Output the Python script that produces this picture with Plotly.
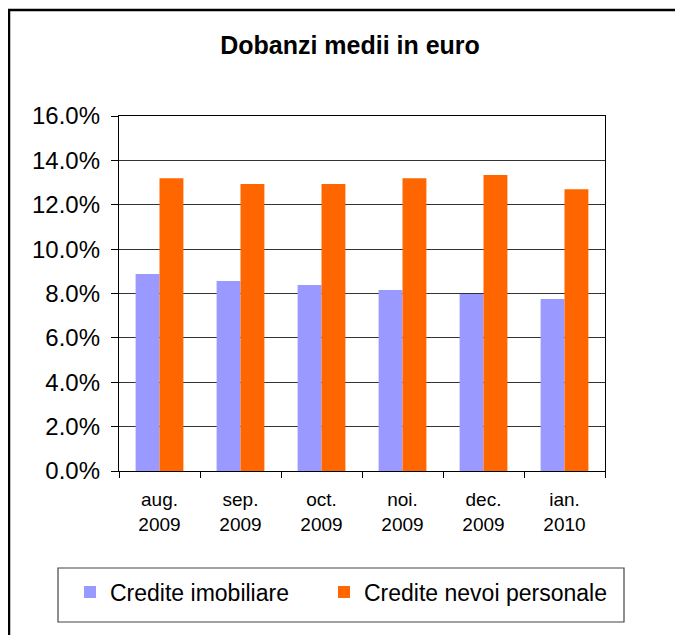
import plotly.graph_objects as go

luni = ["aug.<br>2009", "sep.<br>2009", "oct.<br>2009", "noi.<br>2009", "dec.<br>2009", "ian.<br>2010"]
credite_imobiliare = [8.88, 8.56, 8.38, 8.16, 7.98, 7.75]
credite_nevoi_personale = [13.20, 12.93, 12.93, 13.20, 13.34, 12.70]
y_ticks = [0, 2, 4, 6, 8, 10, 12, 14, 16]
y_tick_labels = ["0.0%", "2.0%", "4.0%", "6.0%", "8.0%", "10.0%", "12.0%", "14.0%", "16.0%"]

# page has an 8px body margin, so figure coords = page coords - 8
W, H = 683, 635
L, R, T, B = 111, 86, 108, 172
pw, ph = W - L - R, H - T - B


def px(x):
    return (x - L) / pw


def py(y):
    return (H - B - y) / ph


fig = go.Figure()
fig.add_trace(go.Bar(x=luni, y=credite_imobiliare, name="Credite imobiliare",
                     marker=dict(color="#9999FF", line=dict(width=0)), legend="legend"))
fig.add_trace(go.Bar(x=luni, y=credite_nevoi_personale, name="Credite nevoi personale",
                     marker=dict(color="#FF6600", line=dict(width=0)), legend="legend2"))

leg = dict(orientation="h", xanchor="left", y=py(584), yanchor="middle",
           font=dict(size=23), bgcolor="rgba(0,0,0,0)", borderwidth=0)

fig.update_layout(
    width=W, height=H,
    margin=dict(l=L, r=R, t=T, b=B, pad=0),
    paper_bgcolor="white", plot_bgcolor="white",
    font=dict(family="Liberation Sans, Arial, sans-serif", color="black"),
    barmode="group", bargap=0.41, bargroupgap=0,
    title=dict(text="<b>Dobanzi medii in euro</b>", x=342 / W, xanchor="center",
               y=1 - 37 / H, yanchor="middle", font=dict(size=25)),
    showlegend=True,
    legend=dict(leg, x=px(62)),
    legend2=dict(leg, x=px(316)),
    shapes=[
        dict(type="rect", xref="paper", yref="paper",
             x0=px(1), x1=px(720), y0=py(2), y1=py(680),
             line=dict(color="black", width=2.5)),
        dict(type="rect", xref="paper", yref="paper",
             x0=px(50), x1=px(616), y0=py(560), y1=py(614),
             line=dict(color="#444", width=1.2)),
    ],
)

fig.update_xaxes(type="category", showgrid=False, showline=True, mirror=True,
                 linecolor="black", linewidth=1, ticks="outside", tickson="boundaries",
                 ticklen=6, tickcolor="black", tickfont=dict(size=19), ticklabelstandoff=11)
fig.update_yaxes(range=[0, 16], tickvals=y_ticks, ticktext=y_tick_labels,
                 showgrid=True, gridcolor="#333", gridwidth=1, zeroline=False,
                 showline=True, mirror=True, linecolor="black", linewidth=1.3,
                 ticks="outside", ticklen=7, tickcolor="black", tickfont=dict(size=24),
                 ticklabelstandoff=6)

fig.write_html("out.html")
